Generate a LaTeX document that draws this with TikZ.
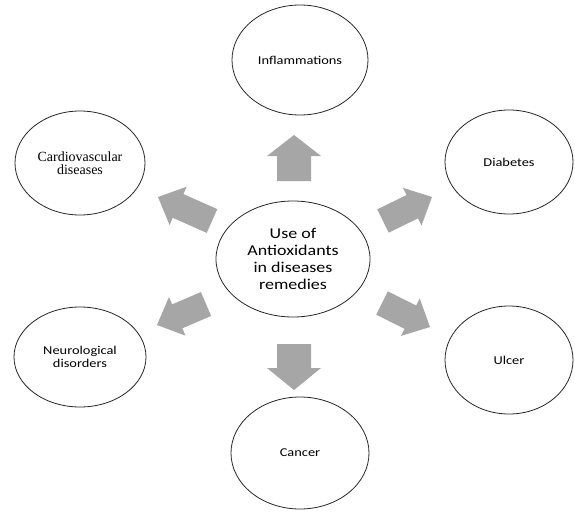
\documentclass[tikz,border=0pt]{standalone}
\usepackage{fontspec}
\setmainfont{Liberation Serif}
\newfontfamily\calib{Carlito}[FakeStretch=1.2]
\usetikzlibrary{shapes.geometric,calc}
\definecolor{arrowgray}{RGB}{166,166,166}
\tikzset{
  bubble/.style={ellipse,draw=black!85,line width=0.8pt,inner sep=0pt,align=center,
    font=\calib\fontsize{12}{13.5}\selectfont},
  arrowfill/.style={fill=arrowgray,draw=none}
}
\newcommand\fatarrow[5]{%
  \coordinate (fa-h) at ($(#2)!#5!(#1)$);
  \fill[arrowfill] ($(#1)!#3!90:(#2)$) -- ($(fa-h)!#3!90:(#2)$) -- ($(fa-h)!#4!90:(#2)$)
    -- (#2) -- ($(fa-h)!#4!-90:(#2)$) -- ($(fa-h)!#3!-90:(#2)$) -- ($(#1)!#3!-90:(#2)$) -- cycle;}
\begin{document}
\begin{tikzpicture}[x=1pt,y=-1pt]
\useasboundingbox[fill=white] (0,0) rectangle (575,514);
\node[bubble,minimum width=154pt,minimum height=116pt,font=\calib\fontsize{15}{17}\selectfont] (center) at (293,259) {Use of\\Antioxidants\\in diseases\\remedies};
\node[bubble,minimum width=136pt,minimum height=110pt] (infl) at (300,60) {Inflammations};
\node[bubble,minimum width=128pt,minimum height=104pt] (diab) at (509,162) {Diabetes};
\node[bubble,minimum width=130pt,minimum height=104pt,font=\rmfamily\fontsize{14}{13}\selectfont] (card) at (80,163) {Cardiovascular\\diseases};
\node[bubble,minimum width=132pt,minimum height=100pt,font=\calib\fontsize{12}{13.3}\selectfont] (neur) at (80,357) {Neurological\\disorders};
\node[bubble,minimum width=128pt,minimum height=108pt] (ulcer) at (509,360) {Ulcer};
\node[bubble,minimum width=138pt,minimum height=112pt] (cancer) at (300,453) {Cancer};
% block arrows
\coordinate (upT) at (294,181); \coordinate (upP) at (294,135);
\coordinate (dnT) at (294,344); \coordinate (dnP) at (294,390);
\coordinate (ulT) at (212,221); \coordinate (ulP) at (158,197);
\coordinate (urT) at (383,221); \coordinate (urP) at (432,197);
\coordinate (llT) at (206,304); \coordinate (llP) at (157,325);
\coordinate (lrT) at (382,303); \coordinate (lrP) at (430,327);
\fatarrow{upT}{upP}{17pt}{27pt}{21pt}
\fatarrow{dnT}{dnP}{17pt}{27pt}{22pt}
\fatarrow{ulT}{ulP}{13pt}{21pt}{22pt}
\fatarrow{urT}{urP}{13pt}{21pt}{22pt}
\fatarrow{llT}{llP}{13pt}{21pt}{22pt}
\fatarrow{lrT}{lrP}{13pt}{21pt}{22pt}
\end{tikzpicture}
\end{document}
